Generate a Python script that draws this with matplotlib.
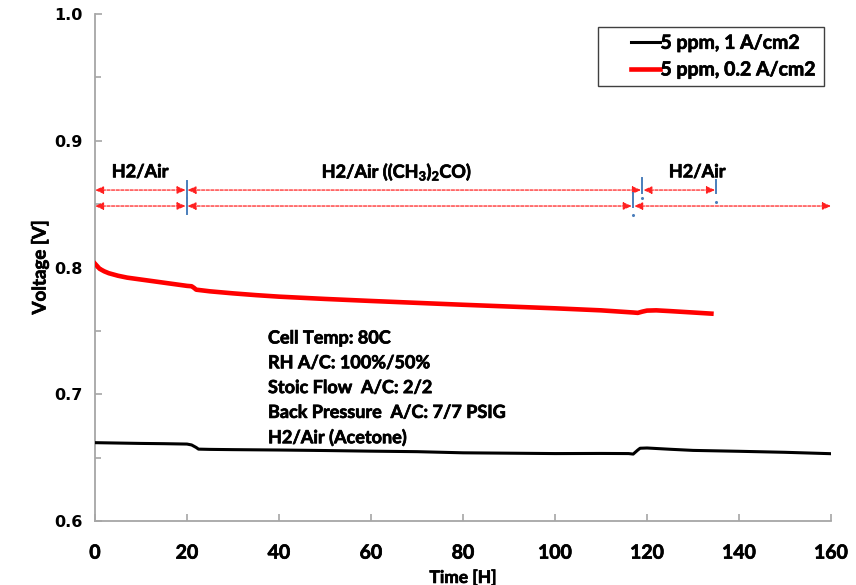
import matplotlib
matplotlib.use("Agg")
import matplotlib.pyplot as plt
from matplotlib.ticker import MultipleLocator
import matplotlib.patheffects as pe
import numpy as np

plt.rcParams['mathtext.fontset'] = 'custom'
plt.rcParams['mathtext.rm'] = 'Lato:bold'
plt.rcParams['mathtext.it'] = 'Lato:bold'
plt.rcParams['mathtext.bf'] = 'Lato:bold'

# ---- data ----
t_black = [0, 5, 10, 15, 20, 21, 22, 22.5, 25, 30, 40, 50, 60, 70, 80, 90, 100, 110,
           116, 117, 118, 118.5, 120, 125, 130, 140, 150, 160]
v_black = [0.6618, 0.6615, 0.6612, 0.6610, 0.6607, 0.6600, 0.6580, 0.6567, 0.6565,
           0.6563, 0.6560, 0.6556, 0.6551, 0.6547, 0.6538, 0.6535, 0.6532, 0.6533,
           0.6532, 0.6528, 0.6560, 0.6574, 0.6576, 0.6566, 0.6557, 0.6550, 0.6542, 0.6531]

t_red = [0, 1, 2, 3, 5, 7, 10, 13, 16, 20, 21, 21.5, 22, 25, 30, 35, 40, 50, 60, 70, 80,
         90, 100, 110, 117, 118, 119, 120, 122, 125, 130, 134]
v_red = [0.8030, 0.7990, 0.7970, 0.7955, 0.7935, 0.7920, 0.7905, 0.7890, 0.7875, 0.7855,
         0.7852, 0.7840, 0.7825, 0.7812, 0.7796, 0.7782, 0.7770, 0.7752, 0.7736, 0.7721,
         0.7706, 0.7692, 0.7678, 0.7662, 0.7645, 0.7642, 0.7652, 0.7660, 0.7662, 0.7656,
         0.7645, 0.7636]

series_labels = ["5 ppm, 1 A/cm2", "5 ppm, 0.2 A/cm2"]
x_ticks = [0, 20, 40, 60, 80, 100, 120, 140, 160]
y_ticks = [0.6, 0.7, 0.8, 0.9, 1.0]

phase_labels = ["H2/Air", r"H2/Air ((CH$_3$)$_2$CO)", "H2/Air"]
phase_label_x = [9.8, 65.6, 130.9]
row1_segments = [(0, 19.7), (20.1, 118.7), (119.2, 134.8)]
row2_segments = [(0, 19.7), (20.1, 116.7), (117.2, 160)]
row1_y, row2_y = 0.8611, 0.8485
conditions = ["Cell Temp: 80C", "RH A/C: 100%/50%", "Stoic Flow  A/C: 2/2",
              "Back Pressure  A/C: 7/7 PSIG", "H2/Air (Acetone)"]

bold_fx = [pe.withStroke(linewidth=0.5, foreground='black')]

# ---- figure ----
fig = plt.figure(figsize=(8.56, 5.85), dpi=100)
ax = fig.add_axes([95/856, 1-521/585, (831-95)/856, (521-14)/585])

ax.plot(t_black, v_black, color='black', lw=2.2, label=series_labels[0], zorder=3)
ax.plot(t_red, v_red, color='#ff0000', lw=3.3, label=series_labels[1], zorder=3)

ax.set_xlim(0, 160)
ax.set_ylim(0.6, 1.0)
ax.set_xticks(x_ticks)
ax.set_yticks(y_ticks)
ax.yaxis.set_minor_locator(MultipleLocator(0.05))
ax.xaxis.set_major_formatter(matplotlib.ticker.FuncFormatter(lambda v, p: f"{v:.0f}"))
ax.yaxis.set_major_formatter(matplotlib.ticker.FuncFormatter(lambda v, p: f"{v:.1f}"))

for s in ['top', 'right']:
    ax.spines[s].set_visible(False)
for s in ['left', 'bottom']:
    ax.spines[s].set_color('#a6a6a6')
    ax.spines[s].set_linewidth(1.3)

ax.tick_params(axis='both', which='major', direction='in', length=5, width=1.2,
               color='#a6a6a6')
ax.tick_params(axis='y', which='minor', direction='in', length=4, width=1.2,
               color='#a6a6a6')
ax.tick_params(axis='y', pad=9)
ax.tick_params(axis='x', pad=17)
for lab in ax.get_yticklabels():
    lab.set_fontfamily('DejaVu Sans'); lab.set_fontweight('bold'); lab.set_fontsize(11.5)
for lab in ax.get_xticklabels():
    lab.set_fontfamily('Lato'); lab.set_fontweight('bold'); lab.set_fontsize(14)
    lab.set_path_effects(bold_fx)

xl = ax.set_xlabel("Time [H]", fontfamily='Lato', fontweight='bold', fontsize=12.5, labelpad=6)
yl = ax.set_ylabel("Voltage [V]", fontfamily='Lato', fontweight='bold', fontsize=13.5, labelpad=4)
xl.set_path_effects(bold_fx)
yl.set_path_effects(bold_fx)

# arrows
arrow_kw = dict(arrowstyle='<|-|>,head_length=0.5,head_width=0.22', color='#ff2020',
                lw=0.9, linestyle=(0, (2.5, 1.2)), shrinkA=0, shrinkB=0)
for (a, b) in row1_segments:
    ax.annotate("", xy=(a, row1_y), xytext=(b, row1_y), arrowprops=arrow_kw, zorder=2)
for (a, b) in row2_segments:
    ax.annotate("", xy=(a, row2_y), xytext=(b, row2_y), arrowprops=arrow_kw, zorder=2)

blue = '#4a7ebb'
ax.plot([19.9, 19.9], [0.8545, 0.8680], color=blue, lw=1.4)
ax.plot([19.9, 19.9], [0.8420, 0.8550], color=blue, lw=1.4)
ax.plot([118.95, 118.95], [0.8585, 0.8705], color=blue, lw=1.4)
ax.plot([118.95], [0.8548], marker='o', ms=1.2, color=blue)
ax.plot([134.95, 134.95], [0.8588, 0.8690], color=blue, lw=1.4)
ax.plot([134.95], [0.8517], marker='o', ms=1.2, color=blue)
ax.plot([116.95, 116.95], [0.8477, 0.8588], color=blue, lw=1.4)
ax.plot([116.95], [0.8414], marker='o', ms=1.2, color=blue)

for lab, xx in zip(phase_labels, phase_label_x):
    ax.text(xx, 0.8755, lab, ha='center', va='center', fontfamily='Lato',
            fontweight='bold', fontsize=13, path_effects=bold_fx)

for i, line in enumerate(conditions):
    y_px = 338 + i * 24.8
    fig.text(268/856, 1 - y_px/585, line, ha='left', va='center', fontfamily='Lato',
             fontweight='bold', fontsize=13, path_effects=bold_fx)

leg = ax.legend(loc='upper right', bbox_to_anchor=((824-95)/736, 1-(27-14)/507),
                frameon=True, fancybox=False, edgecolor='#404040', framealpha=1,
                handlelength=2.8, handletextpad=0.0, borderpad=0.4, labelspacing=0.5,
                borderaxespad=0, prop={'family': 'Lato', 'weight': 'bold', 'size': 14})
leg.get_frame().set_linewidth(1.0)
for txt in leg.get_texts():
    txt.set_path_effects(bold_fx)
for ln in leg.get_lines():
    xd = np.asarray(ln.get_xdata(), dtype=float)
    start = xd[0] + (xd[-1] - xd[0]) * 0.45
    ln.set_xdata(np.linspace(start, xd[-1], len(xd)))

fig.savefig("out.png", dpi=100)
